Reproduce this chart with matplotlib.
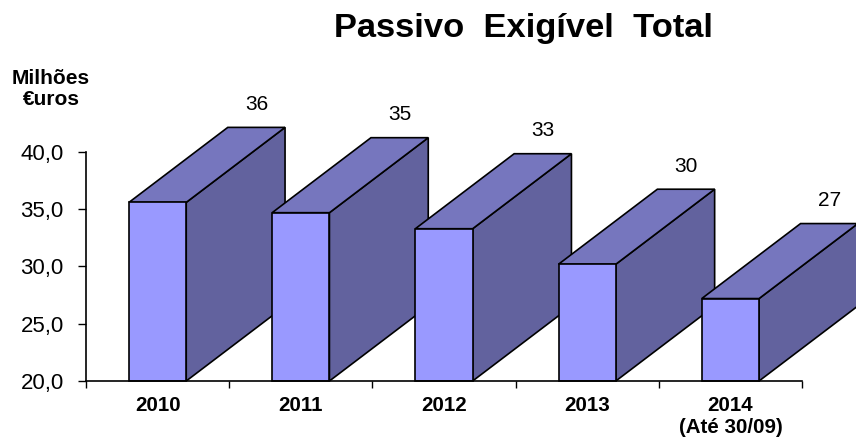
import matplotlib.pyplot as plt
from matplotlib.patches import Polygon

plt.rcParams['font.family'] = ['Liberation Sans', 'DejaVu Sans']

# data
anos = ['2010', '2011', '2012', '2013', '2014\n(Até 30/09)']
valores = [35.6, 34.7, 33.3, 30.2, 27.2]
yticks = [20, 25, 30, 35, 40]

# look of the 3D bars
cor_frente = '#9999FF'
cor_topo = '#7676BE'
cor_lado = '#62629E'
meia_larg = 0.2      # half width of the front face (category units)
prof_x = 0.69        # depth offset in x (category units)
prof_y = 6.55        # depth offset in y (data units)
base = 20

fig = plt.figure(figsize=(8.56, 4.41), dpi=100)
ax = fig.add_axes([86 / 856, 60 / 441, 716 / 856, 229 / 441])
ax.set_xlim(0, len(anos))
ax.set_ylim(20, 40)

for i, v in enumerate(valores):
    x0 = i + 0.5 - meia_larg
    x1 = i + 0.5 + meia_larg
    z = 10 + i * 3
    frente = [(x0, base), (x1, base), (x1, v), (x0, v)]
    topo = [(x0, v), (x1, v), (x1 + prof_x, v + prof_y), (x0 + prof_x, v + prof_y)]
    lado = [(x1, base), (x1 + prof_x, base + prof_y), (x1 + prof_x, v + prof_y), (x1, v)]
    ax.add_patch(Polygon(lado, closed=True, fc=cor_lado, ec='black', lw=1.2, zorder=z, clip_on=False))
    ax.add_patch(Polygon(topo, closed=True, fc=cor_topo, ec='black', lw=1.2, zorder=z + 1, clip_on=False))
    ax.add_patch(Polygon(frente, closed=True, fc=cor_frente, ec='black', lw=1.2, zorder=z + 2, clip_on=False))
    ax.text(i + 0.5 + prof_x, v + prof_y + 2.0, '%.0f' % v, ha='center', va='center',
            fontsize=15, clip_on=False, zorder=50)

ax.spines['top'].set_visible(False)
ax.spines['right'].set_visible(False)
ax.spines['left'].set_linewidth(1.2)
ax.spines['bottom'].set_linewidth(1.2)
ax.spines['left'].set_zorder(100)
ax.spines['bottom'].set_zorder(100)

ax.set_yticks(yticks)
ax.set_yticklabels([('%.1f' % t).replace('.', ',') for t in yticks])
ax.tick_params(axis='y', direction='out', length=6, width=1, pad=10, labelsize=16)

ax.set_xticks(range(len(anos) + 1))
ax.set_xticklabels([])
ax.set_xticks([i + 0.5 for i in range(len(anos))], minor=True)
ax.set_xticklabels(anos, minor=True, fontsize=14.8, fontweight='bold')
ax.tick_params(axis='x', which='major', direction='out', length=5, width=1)
ax.tick_params(axis='x', which='minor', length=0, pad=11)

fig.text(524 / 856, 1 - 29 / 441, 'Passivo  Exigível  Total', ha='center', va='center',
         fontsize=24.8, fontweight='bold')
fig.text(51 / 856, 1 - 89 / 441, 'Milhões\n€uros', ha='center', va='center',
         fontsize=15, fontweight='bold', multialignment='center', linespacing=1.15)

fig.savefig('out.png', dpi=100)
